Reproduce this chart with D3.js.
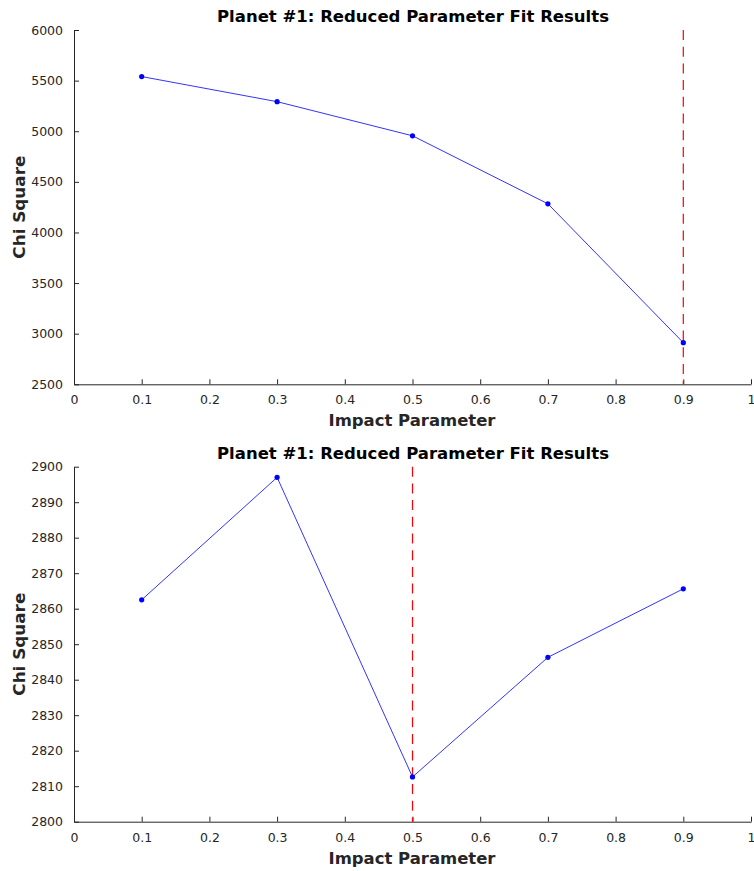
<!DOCTYPE html>
<html>
<head>
<meta charset="utf-8">
<script src="https://cdn.jsdelivr.net/npm/d3@7"></script>
<style>
html,body{margin:0;padding:0;background:#fff;}
svg{display:block;}
</style>
</head>
<body>
<svg id="chart" width="754" height="871"></svg>
<script>
// ---- data ----
const impact = [0.1, 0.3, 0.5, 0.7, 0.9];
const chiTop = [5540, 5292, 4955, 4283, 2911];
const chiBottom = [2862.5, 2897.0, 2812.6, 2846.3, 2865.6];
const bestTop = 0.9;
const bestBottom = 0.5;
const xTicks = [0, 0.1, 0.2, 0.3, 0.4, 0.5, 0.6, 0.7, 0.8, 0.9, 1];
const yTicksTop = [2500, 3000, 3500, 4000, 4500, 5000, 5500, 6000];
const yTicksBottom = [2800, 2810, 2820, 2830, 2840, 2850, 2860, 2870, 2880, 2890, 2900];
const titleText = "Planet #1: Reduced Parameter Fit Results";
const xLabel = "Impact Parameter";
const yLabel = "Chi Square";

const svg = d3.select("#chart");
const axisColor = "#262626";

function panel(values, yDomain, yTicks, best, top, bottom) {
  const x = d3.scaleLinear().domain([0, 1]).range([74, 751]);
  const y = d3.scaleLinear().domain(yDomain).range([bottom, top]);
  const g = svg.append("g");

  // x axis (ticks inward)
  const xa = g.append("g").attr("transform", `translate(0,${bottom})`)
    .call(d3.axisBottom(x).tickValues(xTicks).tickSizeInner(-5).tickSizeOuter(0)
      .tickPadding(11).tickFormat(d => d === 0 || d === 1 ? d3.format("d")(d) : d3.format(".1f")(d)));
  // y axis
  const ya = g.append("g").attr("transform", `translate(74,0)`)
    .call(d3.axisLeft(y).tickValues(yTicks).tickSizeInner(-5).tickSizeOuter(0)
      .tickPadding(11).tickFormat(d3.format("d")));
  [xa, ya].forEach(a => {
    a.select(".domain").attr("stroke", axisColor).attr("stroke-width", 1);
    a.selectAll(".tick line").attr("stroke", axisColor).attr("stroke-width", 1);
    a.selectAll(".tick text").attr("fill", axisColor)
      .attr("font-family", "DejaVu Sans").attr("font-size", 12.5);
  });
  xa.selectAll(".tick text").attr("dy", "0.71em");

  // best-fit dashed line
  g.append("line")
    .attr("x1", x(best)).attr("x2", x(best))
    .attr("y1", y(yDomain[1])).attr("y2", y(yDomain[0]))
    .attr("stroke", "#ff0000").attr("stroke-width", 1.2)
    .attr("stroke-dasharray", "10,6.7");

  // series line
  const pts = impact.map((v, i) => [v, values[i]]);
  g.append("path").datum(pts)
    .attr("fill", "none").attr("stroke", "#0000ff").attr("stroke-width", 1)
    .attr("stroke-opacity", 0.8)
    .attr("d", d3.line().x(d => x(d[0])).y(d => y(d[1])));
  g.selectAll("circle.pt").data(pts).enter().append("circle")
    .attr("class", "pt")
    .attr("cx", d => x(d[0])).attr("cy", d => y(d[1])).attr("r", 2.6)
    .attr("fill", "#0000ff");

  // title
  g.append("text").text(titleText)
    .attr("x", 413).attr("y", top - 8)
    .attr("text-anchor", "middle")
    .attr("font-family", "DejaVu Sans").attr("font-weight", "bold")
    .attr("font-size", 15.5).attr("fill", "#000")
    .attr("textLength", 392).attr("lengthAdjust", "spacingAndGlyphs");
  // x label
  g.append("text").text(xLabel)
    .attr("x", 412).attr("y", bottom + 42)
    .attr("text-anchor", "middle")
    .attr("font-family", "DejaVu Sans").attr("font-weight", "bold")
    .attr("font-size", 16).attr("fill", axisColor)
    .attr("textLength", 167).attr("lengthAdjust", "spacingAndGlyphs");
  // y label
  g.append("text").text(yLabel)
    .attr("transform", `translate(25,${(top + bottom) / 2}) rotate(-90)`)
    .attr("text-anchor", "middle")
    .attr("font-family", "DejaVu Sans").attr("font-weight", "bold")
    .attr("font-size", 16).attr("fill", axisColor)
    .attr("textLength", 103).attr("lengthAdjust", "spacingAndGlyphs");
}

panel(chiTop, [2500, 6000], yTicksTop, bestTop, 30, 384.3);
panel(chiBottom, [2800, 2900], yTicksBottom, bestBottom, 466.7, 821.7);
</script>
</body>
</html>
